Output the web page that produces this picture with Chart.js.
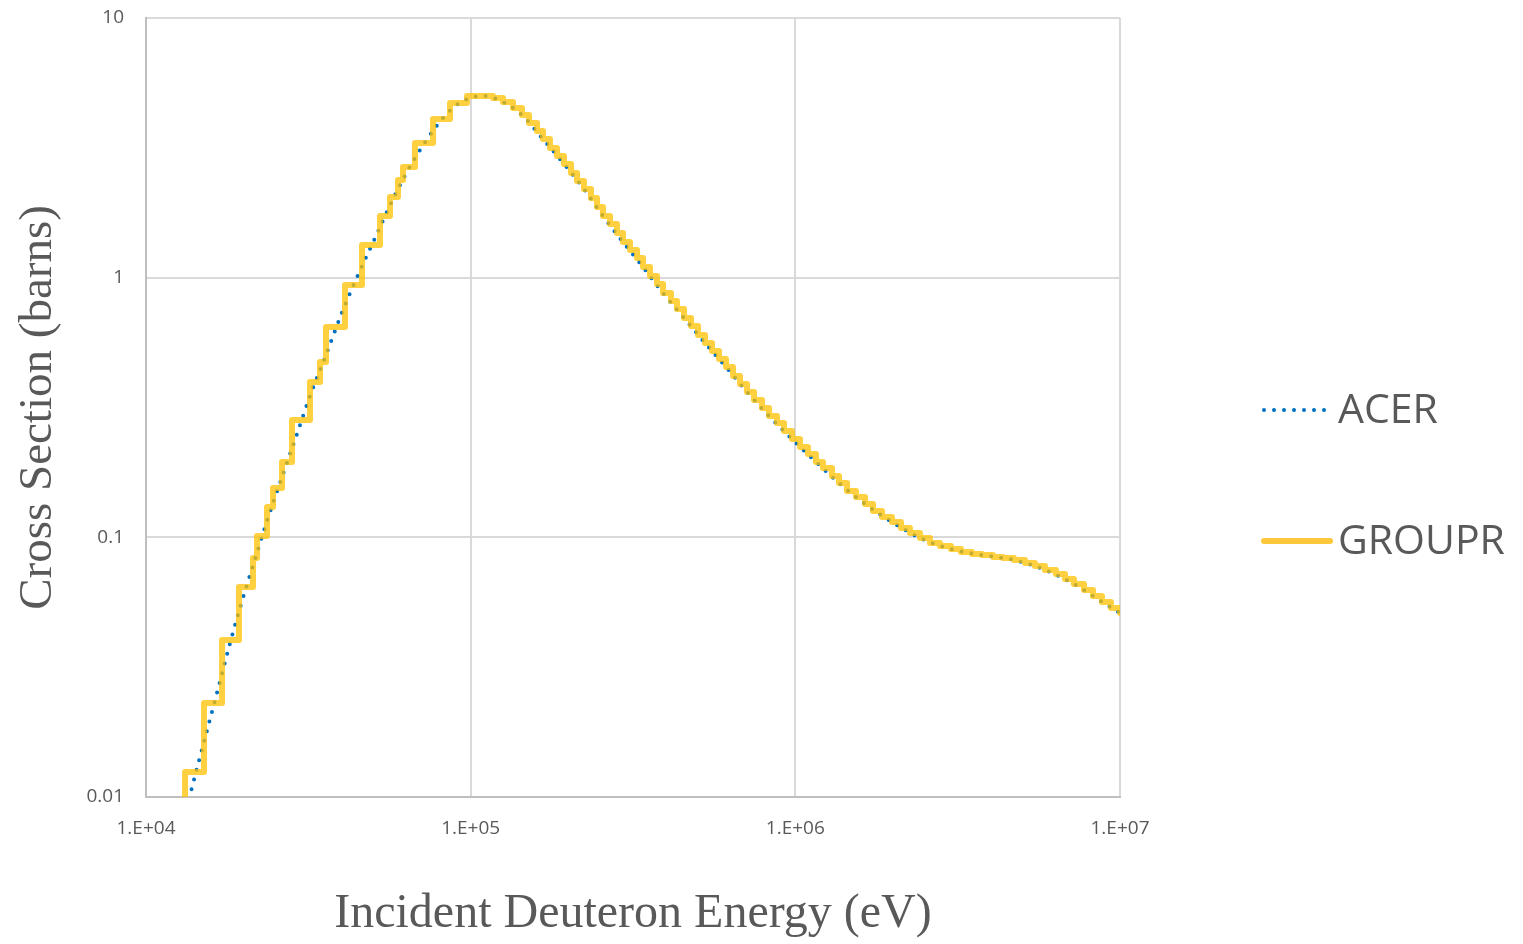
<!DOCTYPE html>
<html>
<head>
<meta charset="utf-8">
<title>Cross Section: ACER vs GROUPR</title>
<script src="https://cdn.jsdelivr.net/npm/chart.js@4.4.1/dist/chart.umd.min.js"></script>
<style>
  html, body { margin: 0; padding: 0; background: #ffffff; }
  #chart { display: block; }
</style>
</head>
<body>
<canvas id="chart" width="1523" height="944"></canvas>
<script>
// axis ticks
const xTickValues = [1e4, 1e5, 1e6, 1e7];
const xTickLabels = ["1.E+04", "1.E+05", "1.E+06", "1.E+07"];
const yTickValues = [0.01, 0.1, 1, 10];
const yTickLabels = ["0.01", "0.1", "1", "10"];
const seriesNames = ["ACER", "GROUPR"];

// ACER pointwise cross section (eV, barns)
const acerEnergy = [
  13570, 14360, 15520, 16790, 18150, 19760, 21670, 23750, 26240, 28970,
  32000, 35840, 39870, 44970, 51090, 58050, 67390, 79880, 88850, 101700,
  109900, 125800, 143900, 167000, 193900, 223400, 255600, 294500, 339500, 391200,
  454000, 527000, 611500, 709900, 829700, 976600, 1157800, 1363000, 1639000, 1985000,
  2421000, 3016000, 3757000, 4716000, 5874000, 7215000, 8800000, 10000000
];
const acerXs = [
  0.00983, 0.01293, 0.01861, 0.0270, 0.03918, 0.05686, 0.0825, 0.1187, 0.1708, 0.2434,
  0.3501, 0.5039, 0.7182, 1.024, 1.447, 2.045, 2.889, 3.942, 4.543, 4.964,
  5.008, 4.748, 4.231, 3.420, 2.740, 2.195, 1.727, 1.372, 1.099, 0.8729,
  0.6994, 0.5605, 0.4529, 0.3628, 0.2934, 0.2392, 0.1951, 0.1619, 0.1345, 0.1146,
  0.0994, 0.0902, 0.0855, 0.0818, 0.0749, 0.0661, 0.0564, 0.0511
];

// GROUPR group-averaged values (group lower bound in eV, barns)
const grouprEnergy = [
  12000, 13190, 15090, 17150, 19340, 21360, 21970, 23590, 24610, 26240,
  28170, 32000, 34350, 35840, 41020, 46280, 52560, 56430, 59720, 61880,
  67390, 76560, 86370, 97430, 117150, 125750, 135000, 143900, 151230, 160050,
  167000, 175500, 184430, 193810, 203700, 212560, 223370, 234750, 244970, 255610,
  268620, 282310, 294560, 309570, 325330, 339490, 356770, 374950, 391270, 414000,
  432000, 454000, 477130, 501380, 526930, 553750, 581970, 611600, 642770, 675480,
  709900, 746050, 789590, 829710, 878100, 922800, 976520, 1033500, 1093700, 1157600,
  1216400, 1297000, 1363000, 1442500, 1537900, 1639000, 1734600, 1849300, 1985100, 2115300,
  2254600, 2421000, 2598300, 2789100, 3015400, 3237000, 3499400, 3756700, 4061500, 4359900,
  4714700, 5096500, 5470800, 5872800, 6350300, 6769000, 7215000, 7746000, 8255900, 8799400,
  9378700, 10000000
];
const grouprXs = [
  0.0085, 0.01248, 0.0230, 0.0402, 0.0644, 0.0832, 0.1012, 0.1309, 0.1549, 0.1951,
  0.2831, 0.3962, 0.4734, 0.6457, 0.9370, 1.336, 1.727, 2.045, 2.378, 2.668,
  3.301, 4.083, 4.706, 5.007, 4.919, 4.748, 4.502, 4.231, 3.942, 3.672,
  3.420, 3.158, 2.941, 2.740, 2.530, 2.357, 2.195, 2.027, 1.871, 1.727,
  1.609, 1.486, 1.372, 1.278, 1.191, 1.099, 1.015, 0.9454, 0.8729, 0.8131,
  0.7575, 0.6994, 0.6514, 0.6015, 0.5604, 0.5220, 0.4862, 0.4529, 0.4182, 0.3896,
  0.3628, 0.3380, 0.3148, 0.2933, 0.2757, 0.2568, 0.2392, 0.2228, 0.2094, 0.1951,
  0.1849, 0.1723, 0.1619, 0.1508, 0.1430, 0.1344, 0.1263, 0.1198, 0.1146, 0.1086,
  0.1039, 0.0994, 0.0951, 0.0926, 0.0902, 0.0878, 0.0863, 0.0855, 0.0840, 0.0832,
  0.0818, 0.0797, 0.0776, 0.0749, 0.0723, 0.0691, 0.0661, 0.0627, 0.0594, 0.0564,
  0.0534, 0.0511
];

const textGray = "#595959";

function toPoints(xs, ys) {
  return xs.map(function (x, i) { return { x: x, y: ys[i] }; });
}

// legend on the right, drawn beside the plot
const sideLegend = {
  id: "sideLegend",
  afterDraw(chart) {
    const ctx = chart.ctx;
    const area = chart.chartArea;
    const x0 = area.right + 142;
    const rows = [area.top + 392, area.top + 523];
    ctx.save();
    chart.data.datasets.forEach(function (ds, i) {
      const y = rows[i];
      ctx.beginPath();
      ctx.lineWidth = ds.borderWidth;
      ctx.strokeStyle = ds.legendColor;
      ctx.lineCap = "round";
      ctx.setLineDash(ds.borderDash || []);
      ctx.moveTo(x0 + 2, y);
      ctx.lineTo(x0 + 68, y);
      ctx.stroke();
      ctx.setLineDash([]);
      ctx.fillStyle = textGray;
      ctx.font = "41px 'Open Sans'";
      ctx.textAlign = "left";
      ctx.textBaseline = "middle";
      ctx.fillText(ds.label, x0 + 76, y + 1);
    });
    ctx.restore();
  }
};

new Chart(document.getElementById("chart"), {
  type: "scatter",
  data: {
    datasets: [
      {
        label: seriesNames[0],
        data: toPoints(acerEnergy, acerXs),
        showLine: true,
        borderColor: "#0070c0",
        legendColor: "#0070c0",
        borderWidth: 4,
        borderDash: [0, 10],
        borderCapStyle: "round",
        cubicInterpolationMode: "monotone",
        pointRadius: 0,
        order: 2,
      },
      {
        label: seriesNames[1],
        data: toPoints(grouprEnergy, grouprXs),
        showLine: true,
        stepped: "before",
        borderColor: "rgba(255,192,0,0.75)",
        legendColor: "#ffc83a",
        borderWidth: 6,
        borderJoinStyle: "round",
        borderCapStyle: "round",
        pointRadius: 0,
        order: 1,
      },
    ],
  },
  options: {
    responsive: false,
    devicePixelRatio: 1,
    animation: false,
    events: [],
    layout: { padding: { left: 0, right: 403, top: 18, bottom: 0 } },
    plugins: {
      legend: { display: false },
      tooltip: { enabled: false },
    },
    scales: {
      x: {
        type: "logarithmic",
        position: "bottom",
        min: xTickValues[0],
        max: xTickValues[xTickValues.length - 1],
        afterBuildTicks: function (scale) {
          scale.ticks = xTickValues.map(function (v) { return { value: v }; });
        },
        afterFit: function (scale) { scale.height = 147; },
        ticks: {
          autoSkip: false,
          maxRotation: 0,
          padding: 20,
          color: textGray,
          font: { family: "'Open Sans'", size: 19 },
          callback: function (v) { return xTickLabels[xTickValues.indexOf(v)]; },
        },
        grid: { color: "#d9d9d9", lineWidth: 2, drawTicks: false },
        border: { color: "#bfbfbf", width: 2 },
        title: {
          display: true,
          text: "Incident Deuteron Energy (eV)",
          color: textGray,
          font: { family: "'Liberation Serif'", size: 48 },
          padding: { top: 0, bottom: 1 },
        },
      },
      y: {
        type: "logarithmic",
        min: yTickValues[0],
        max: yTickValues[yTickValues.length - 1],
        afterBuildTicks: function (scale) {
          scale.ticks = yTickValues.map(function (v) { return { value: v }; });
        },
        afterFit: function (scale) {
          scale.width = 146;
          scale.paddingTop = 0;
          scale.paddingBottom = 0;
        },
        ticks: {
          autoSkip: false,
          padding: 22,
          color: textGray,
          font: { family: "'Open Sans'", size: 19 },
          callback: function (v) { return yTickLabels[yTickValues.indexOf(v)]; },
        },
        grid: { color: "#d9d9d9", lineWidth: 2, drawTicks: false },
        border: { color: "#bfbfbf", width: 2 },
        title: {
          display: true,
          text: "Cross Section (barns)",
          color: textGray,
          font: { family: "'Liberation Serif'", size: 47 },
          padding: { top: 10, bottom: 0 },
        },
      },
    },
  },
  plugins: [sideLegend],
});
</script>
</body>
</html>
